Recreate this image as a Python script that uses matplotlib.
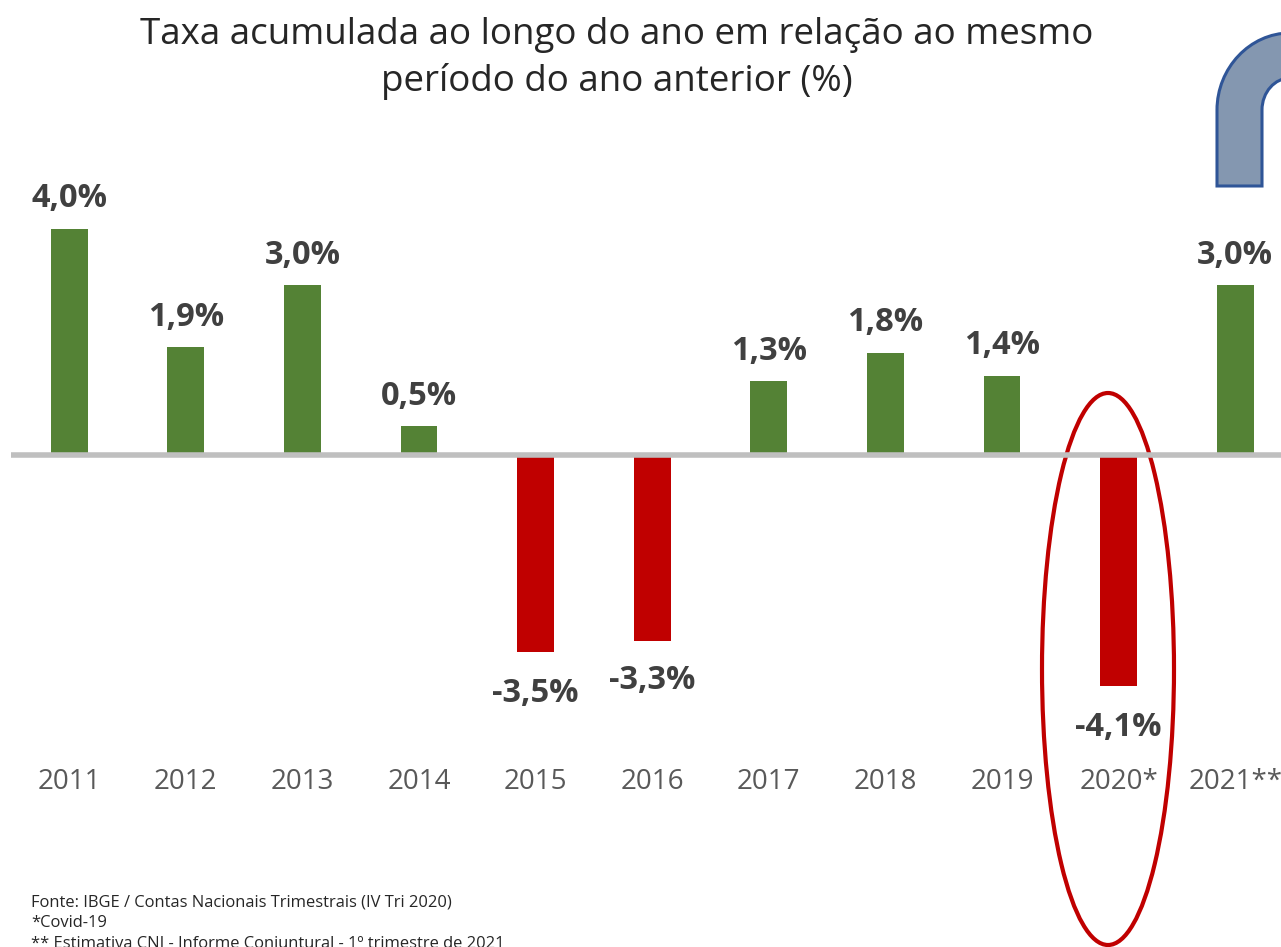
import matplotlib
matplotlib.use("Agg")
import matplotlib.pyplot as plt
from matplotlib.patches import Ellipse, PathPatch
from matplotlib.path import Path

years = ['2011','2012','2013','2014','2015','2016','2017','2018','2019','2020*','2021**']
values = [4.0,1.9,3.0,0.5,-3.5,-3.3,1.3,1.8,1.4,-4.1,3.0]
labels = ['4,0%','1,9%','3,0%','0,5%','-3,5%','-3,3%','1,3%','1,8%','1,4%','-4,1%','3,0%']
notes = ['Fonte: IBGE / Contas Nacionais Trimestrais (IV Tri 2020)','*Covid-19','** Estimativa CNI - Informe Conjuntural - 1º trimestre de 2021']
title = 'Taxa acumulada ao longo do ano em relação ao mesmo\nperíodo do ano anterior (%)'

plt.rcParams['font.family'] = ['Open Sans','DejaVu Sans']
W,H = 1281,947
fig = plt.figure(figsize=(W/100,H/100),dpi=100)
ov = fig.add_axes([0,0,1,1]); ov.set_xlim(0,W); ov.set_ylim(H,0); ov.axis('off')
ax = fig.add_axes([0,0,1,1]); ax.patch.set_alpha(0); ax.axis('off')
# pixel mapping: x index i -> 69.2+116.6*i ; value v -> 454.5-56.4*v
ax.set_xlim(-69.2/116.6,(W-69.2)/116.6)
ax.set_ylim((454.5-H)/56.4,454.5/56.4)
for i,(v,l) in enumerate(zip(values,labels)):
    c = '#548235' if v>0 else '#C00000'
    ax.bar(i,v,width=0.315,color=c,zorder=2)
    off = 0.535 if v>0 else -0.735
    if l=='-3,3%': off=-0.70
    ax.text(i,v+off,l,ha='center',va='center',fontsize=23.5,fontweight='bold',color='#404040',zorder=5)
    ax.text(i,-5.8,years[i],ha='center',va='center',fontsize=20,color='#595959')
ax.plot([(11-69.2)/116.6,(W-69.2)/116.6],[0,0],color='#BFBFBF',lw=4,zorder=3,solid_capstyle='butt')
ov.text(617,58.5,title,ha='center',va='center',fontsize=26.5,color='#262626',linespacing=1.39)
for t,y in zip(notes,[902,923,944]):
    ov.text(31,y,t,ha='left',va='center',fontsize=11.9,color='#262626')
ov.add_patch(Ellipse((1108,669),132,552,fill=False,ec='#C00000',lw=3,zorder=6))
verts=[(1217,186),(1217,110),(1217,68),(1250,33),(1290,33),(1290,78),(1275,78),(1262,92),(1262,110),(1262,186),(1217,186)]
codes=[Path.MOVETO,Path.LINETO,Path.CURVE4,Path.CURVE4,Path.CURVE4,Path.LINETO,Path.CURVE4,Path.CURVE4,Path.CURVE4,Path.LINETO,Path.CLOSEPOLY]
ov.add_patch(PathPatch(Path(verts,codes),fc='#8497B0',ec='#2F5597',lw=2.2))
fig.savefig('out.png',dpi=100)
